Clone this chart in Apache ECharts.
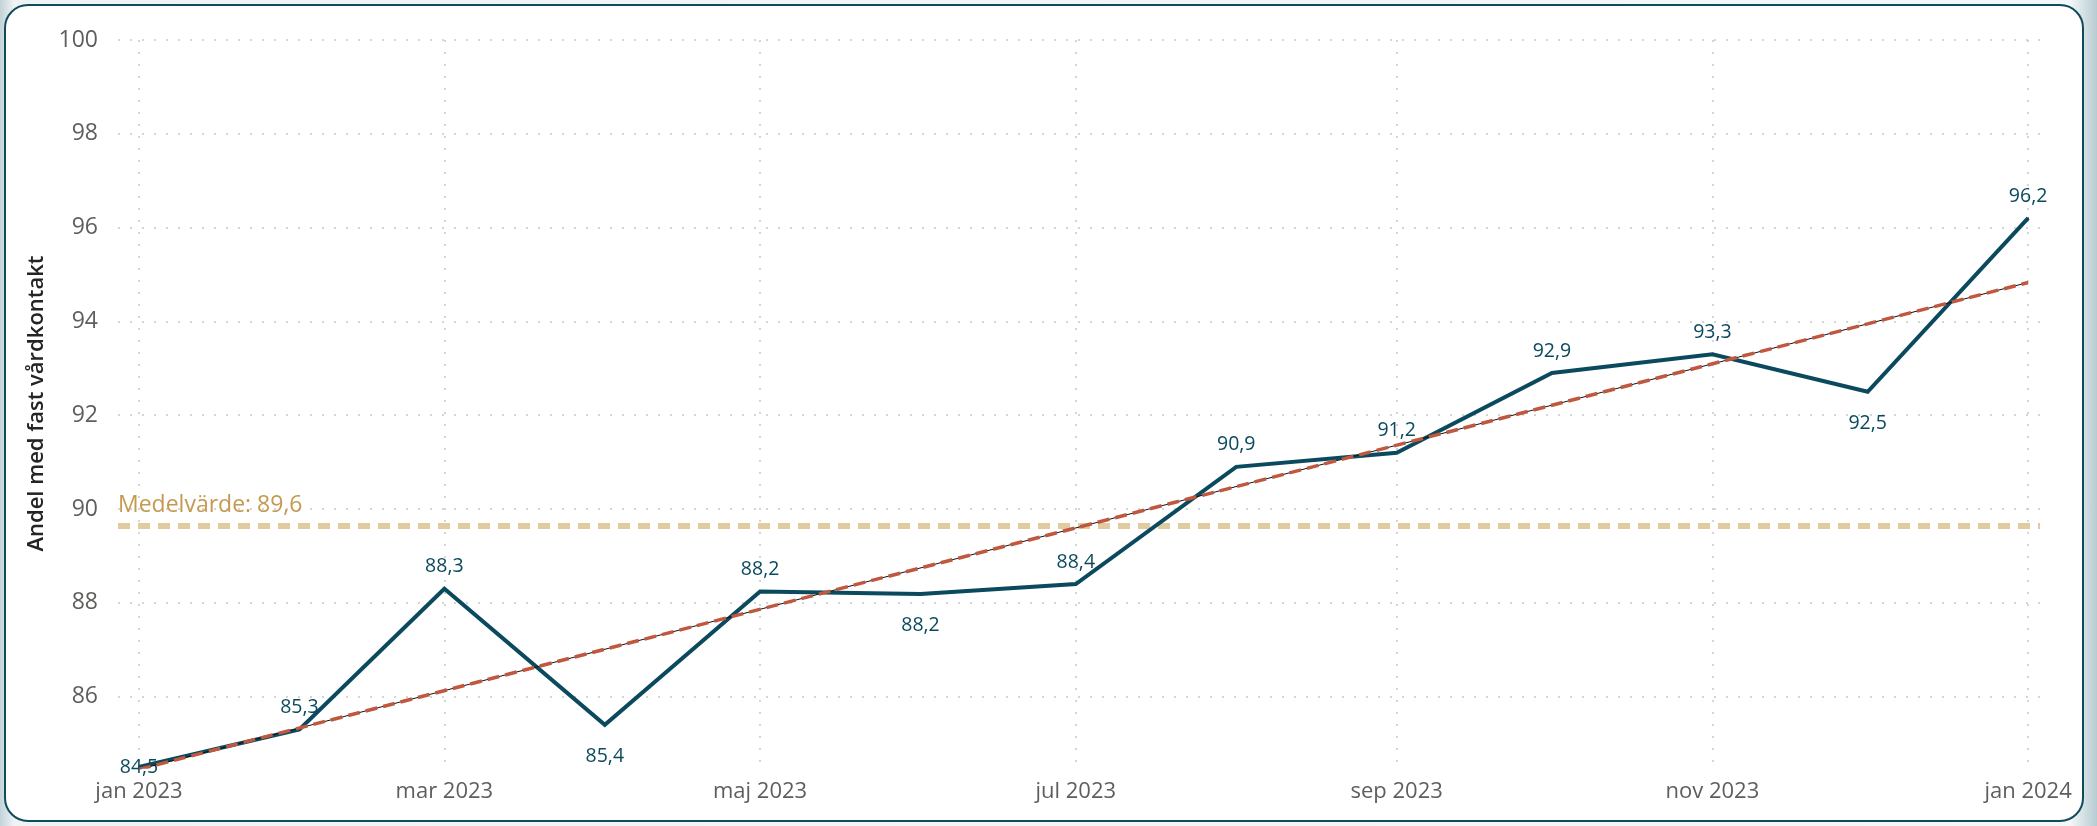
<!DOCTYPE html>
<html>
<head>
<meta charset="utf-8">
<title>Andel med fast vårdkontakt</title>
<script src="https://cdn.jsdelivr.net/npm/echarts@6/dist/echarts.min.js"></script>
<style>
  html, body { margin: 0; padding: 0; width: 2097px; height: 826px; overflow: hidden; }
  body { background: linear-gradient(90deg, #c2d3d8 0px, #eef3f4 14px, #f4f7f8 2070px, #b6cbd1 2097px); }
  #card {
    position: absolute; left: 4px; top: 4px; width: 2080px; height: 818px;
    box-sizing: border-box; border: 2px solid #0f4b5c; border-radius: 24px; background: #fff;
  }
  #chart { position: absolute; left: 0; top: 0; width: 2097px; height: 826px; }
</style>
</head>
<body>
<div id="card"></div>
<div id="chart"></div>
<script>
// månadsvärden, andel med fast vårdkontakt (%)
const months = ['2023-01-01', '2023-02-01', '2023-03-01', '2023-04-01', '2023-05-01', '2023-06-01',
  '2023-07-01', '2023-08-01', '2023-09-01', '2023-10-01', '2023-11-01', '2023-12-01', '2024-01-01'];
const values = [84.5, 85.3, 88.3, 85.4, 88.24, 88.19, 88.4, 90.9, 91.2, 92.9, 93.3, 92.5, 96.2];
// trendlinjens ändpunkter (jan 2023, jan 2024)
const trendValues = [84.45, 94.83];
const monthNames = ['jan', 'feb', 'mar', 'apr', 'maj', 'jun', 'jul', 'aug', 'sep', 'okt', 'nov', 'dec'];

const FONT = '"Open Sans", "Noto Sans", sans-serif';
const TEAL = '#0b4a5e';
const DAY = 24 * 3600 * 1000;

// etiketter under linjen för dessa punkter
const labelBelow = [3, 5, 11];

const fmt = v => v.toFixed(1).replace('.', ',');

const chart = echarts.init(document.getElementById('chart'));

const lineData = months.map((m, i) => {
  let label;
  if (i === 0) label = { position: 'inside', offset: [8, -2] };
  else if (labelBelow.includes(i)) label = { position: 'bottom', distance: 21 };
  else label = { position: 'top', distance: 11 };
  return { value: [m, values[i]], label };
});

const trendData = [[months[0], trendValues[0]], [months[months.length - 1], trendValues[1]]];

const xMin = new Date(months[0]).getTime() - 4.06 * DAY;
const xMax = new Date(months[months.length - 1]).getTime() + 2.3 * DAY;

chart.setOption({
  animation: false,
  grid: { left: 118, right: 57, top: 40, bottom: 59 },
  xAxis: {
    type: 'time',
    min: xMin,
    max: xMax,
    splitNumber: 6,
    axisLine: { show: false },
    axisTick: { show: false },
    axisLabel: {
      color: '#605e5c',
      fontFamily: FONT,
      fontSize: 22,
      margin: 14,
      formatter: v => {
        const d = new Date(v);
        if (d.getDate() !== 1 || d.getHours() !== 0) return '';
        return monthNames[d.getMonth()] + ' ' + d.getFullYear();
      }
    },
    splitLine: {
      show: true,
      showMinLine: false,
      showMaxLine: false,
      lineStyle: { color: '#c8c8c8', width: 1.5, type: [2, 10] }
    }
  },
  yAxis: {
    type: 'value',
    min: 84.5,
    max: 100,
    minInterval: 2,
    maxInterval: 2,
    name: 'Andel med fast vårdkontakt',
    nameLocation: 'middle',
    nameRotate: 90,
    nameGap: 68,
    nameTextStyle: { color: '#252423', fontFamily: FONT, fontSize: 22, fontWeight: 600 },
    axisLine: { show: false },
    axisTick: { show: false },
    axisLabel: {
      showMinLabel: false,
      color: '#605e5c',
      fontFamily: FONT,
      fontSize: 23,
      margin: 20
    },
    splitLine: {
      show: true,
      showMinLine: false,
      lineStyle: { color: '#c8c8c8', width: 1.5, type: [2, 10] }
    }
  },
  series: [
    {
      name: 'Andel',
      type: 'line',
      data: lineData,
      symbol: 'circle',
      symbolSize: 2,
      showSymbol: true,
      showAllSymbol: true,
      itemStyle: { color: TEAL },
      z: 3,
      lineStyle: { color: TEAL, width: 4, join: 'miter' },
      label: {
        show: true,
        color: TEAL,
        fontFamily: FONT,
        fontSize: 19.5,
        formatter: p => fmt(p.value[1])
      },
      labelLayout: { hideOverlap: false },
      markLine: {
        silent: true,
        symbol: 'none',
        z: 1,
        data: [{ type: 'average', name: 'Medelvärde' }],
        lineStyle: { color: '#e0cca0', width: 6, type: [12, 8] },
        label: {
          position: 'insideStartTop',
          distance: [0, 9],
          color: '#c49a50',
          fontFamily: FONT,
          fontSize: 23,
          formatter: p => 'Medelvärde: ' + fmt(p.value)
        }
      }
    },
    {
      name: 'Trend',
      type: 'line',
      data: trendData,
      showSymbol: false,
      z: 4,
      lineStyle: { color: '#111', width: 1 }
    },
    {
      name: 'Trend streckad',
      type: 'line',
      data: trendData,
      showSymbol: false,
      z: 5,
      lineStyle: { color: '#c0583f', width: 3.5, type: [12, 6] }
    }
  ]
});
</script>
</body>
</html>
